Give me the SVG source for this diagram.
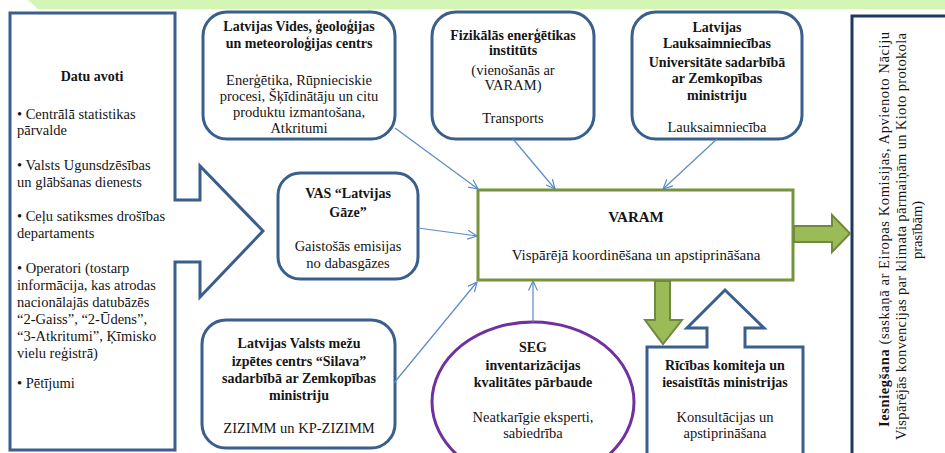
<svg xmlns="http://www.w3.org/2000/svg" width="945" height="453" viewBox="0 0 945 453" font-family="'Liberation Serif', 'Times New Roman', 'DejaVu Serif', serif">
<defs>
<style>
text{font-family:'Liberation Serif','Times New Roman','DejaVu Serif',serif;font-size:14.5px;fill:#151515}
.b{font-weight:bold;font-size:14px}
.c{text-anchor:middle}
.box{fill:#fff;stroke:#3a5f8c;stroke-width:3}
.con{fill:none;stroke:#5b8ac6;stroke-width:1.2}
.garrow{fill:#9bbb59;stroke:#71893f;stroke-width:2}
</style>
<marker id="ah" viewBox="0 0 10 10" refX="9.5" refY="5" markerWidth="10" markerHeight="10" markerUnits="userSpaceOnUse" orient="auto">
<path d="M0,0.5 L9.5,5 L0,9.5" fill="none" stroke="#5b8ac6" stroke-width="1.2"/>
</marker>
</defs>
<rect width="945" height="453" fill="#fff"/>
<polygon points="28,0 945,0 945,9 38,9" fill="#d4f6b4"/>

<g id="datu-avoti">
<path class="box" d="M10,13 L175,13 L175,200 L200,200 L200,166 L263,231 L200,297 L200,262 L175,262 L175,450 L10,450 Z" stroke-width="2.5"/>
<text class="b c" x="92" y="81">Datu avoti</text>
<text x="17" y="118.5">• Centrālā statistikas</text>
<text x="17" y="135">pārvalde</text>
<text x="17" y="169.5">• Valsts Ugunsdzēsības</text>
<text x="17" y="187">un glābšanas dienests</text>
<text x="17" y="220.5">• Ceļu satiksmes drošības</text>
<text x="17" y="238">departaments</text>
<text x="17" y="272.5">• Operatori (tostarp</text>
<text x="17" y="290">informācija, kas atrodas</text>
<text x="17" y="307">nacionālajās datubāzēs</text>
<text x="17" y="324">“2-Gaiss”, “2-Ūdens”,</text>
<text x="17" y="341">“3-Atkritumi”, Ķīmisko</text>
<text x="17" y="358">vielu reģistrā)</text>
<text x="17" y="388">• Pētījumi</text>
</g>

<g id="lvgmc">
<rect class="box" x="203" y="12" width="192" height="127" rx="24"/>
<text class="b c" x="299" y="31">Latvijas Vides, ģeoloģijas</text>
<text class="b c" x="299" y="48">un meteoroloģijas centrs</text>
<text class="c" x="299" y="85">Enerģētika, Rūpnieciskie</text>
<text class="c" x="299" y="101">procesi, Šķīdinātāju un citu</text>
<text class="c" x="299" y="117">produktu izmantošana,</text>
<text class="c" x="299" y="133">Atkritumi</text>
</g>

<g id="fei">
<rect class="box" x="432" y="12" width="162" height="127" rx="24"/>
<text class="b c" x="513" y="39.5">Fizikālās enerģētikas</text>
<text class="b c" x="513" y="55">institūts</text>
<text class="c" x="513" y="74.5">(vienošanās ar</text>
<text class="c" x="513" y="90">VARAM)</text>
<text class="c" x="513" y="122.5">Transports</text>
</g>

<g id="llu">
<rect class="box" x="632" y="12" width="170" height="127" rx="24"/>
<text class="b c" x="717" y="31.5">Latvijas</text>
<text class="b c" x="717" y="48">Lauksaimniecības</text>
<text class="b c" x="717" y="66.5">Universitāte sadarbībā</text>
<text class="b c" x="717" y="83">ar Zemkopības</text>
<text class="b c" x="717" y="100">ministriju</text>
<text class="c" x="717" y="132">Lauksaimniecība</text>
</g>

<g id="vas">
<rect class="box" x="278" y="173" width="140" height="106" rx="22"/>
<text class="b c" x="348" y="197.5">VAS “Latvijas</text>
<text class="b c" x="348" y="216.5">Gāze”</text>
<text class="c" x="348" y="250.5">Gaistošās emisijas</text>
<text class="c" x="348" y="267.5">no dabasgāzes</text>
</g>

<g id="silava">
<rect class="box" x="202" y="320" width="193" height="128" rx="24"/>
<text class="b c" x="299" y="348">Latvijas Valsts mežu</text>
<text class="b c" x="299" y="366">izpētes centrs “Silava”</text>
<text class="b c" x="299" y="383">sadarbībā ar Zemkopības</text>
<text class="b c" x="299" y="400">ministriju</text>
<text class="c" x="299" y="433">ZIZIMM un KP-ZIZIMM</text>
</g>

<g id="seg">
<ellipse cx="533" cy="402" rx="101" ry="80" fill="#fff" stroke="#7030a0" stroke-width="3"/>
<text class="b c" x="533" y="352">SEG</text>
<text class="b c" x="533" y="370">inventarizācijas</text>
<text class="b c" x="533" y="387">kvalitātes pārbaude</text>
<text class="c" x="533" y="422">Neatkarīgie eksperti,</text>
<text class="c" x="533" y="438">sabiedrība</text>
</g>

<g id="varam">
<rect x="478" y="190" width="315" height="90" fill="#fff" stroke="#77933c" stroke-width="3"/>
<text class="c" x="636" y="222" font-weight="bold" style="font-size:15px">VARAM</text>
<text class="c" x="636" y="260" style="font-size:15px">Vispārējā koordinēšana un apstiprināšana</text>
</g>

<g id="ricibas">
<path class="box" d="M647,456 L647,347 L707,347 L707,328 L687,328 L725,290 L764,328 L745,328 L745,347 L803,347 L803,456" stroke-width="2.5"/>
<text class="b c" x="725" y="370">Rīcības komiteja un</text>
<text class="b c" x="725" y="387">iesaistītās ministrijas</text>
<text class="c" x="725" y="422">Konsultācijas un</text>
<text class="c" x="725" y="438">apstiprināšana</text>
</g>

<g id="iesniegsana">
<path d="M852,456 L852,16 L947,16" fill="#fff" stroke="#1f3a60" stroke-width="3"/>
<text transform="rotate(-90)" class="c" x="-229.5" y="889" textLength="395" lengthAdjust="spacing"><tspan font-weight="bold">Iesniegšana</tspan> (saskaņā ar Eiropas Komisijas, Apvienoto Nāciju</text>
<text transform="rotate(-90)" class="c" x="-236.5" y="906" textLength="407" lengthAdjust="spacing">Vispārējās konvencijas par klimata pārmaiņām un Kioto protokola</text>
<text transform="rotate(-90)" class="c" x="-230" y="922">prasībām)</text>
</g>

<g id="connectors">
<line class="con" x1="395" y1="128" x2="478" y2="189" marker-end="url(#ah)"/>
<line class="con" x1="513" y1="139" x2="555" y2="189" marker-end="url(#ah)"/>
<line class="con" x1="717" y1="139" x2="663" y2="189" marker-end="url(#ah)"/>
<line class="con" x1="418" y1="228" x2="477" y2="236" marker-end="url(#ah)"/>
<line class="con" x1="394" y1="383" x2="477" y2="282" marker-end="url(#ah)"/>
<line class="con" x1="533" y1="322" x2="533" y2="281" marker-end="url(#ah)"/>
<path class="garrow" d="M794,226 L832,226 L832,215 L850,233.5 L832,252 L832,242 L794,242 Z"/>
<path class="garrow" d="M655,281 L670,281 L670,320 L682,320 L663,344 L645,320 L655,320 Z"/>
</g>
</svg>
